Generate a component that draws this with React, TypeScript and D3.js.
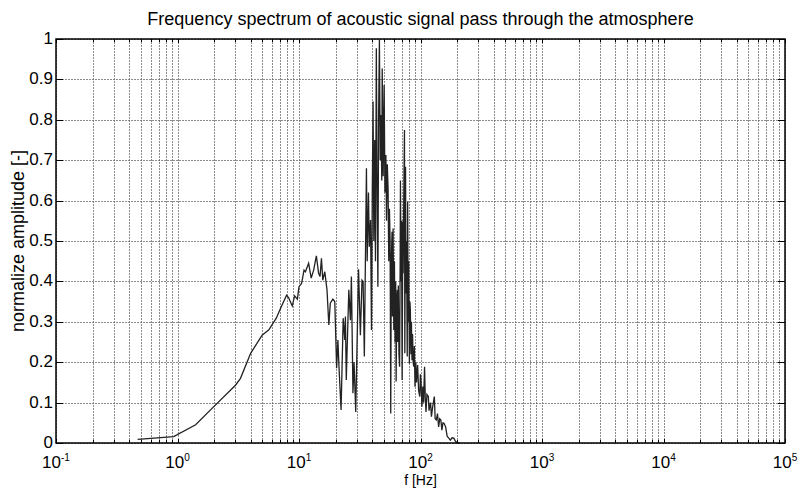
import React, { useEffect, useRef } from "react";
import * as d3 from "d3";

// spectrum: frequency [Hz] and normalized amplitude
const freq = [
  0.47, 0.93, 1.41, 1.99, 3.0, 3.3, 4.0, 4.97, 5.65, 6.5, 7.04, 7.9, 8.2, 8.8, 9.2, 9.7,
  10.0, 10.5, 11.0, 11.3, 12.0, 12.6, 13.2, 13.9, 14.5, 14.9, 15.3, 15.7, 16.3, 17.0, 17.6,
  18.1, 19.0, 19.7, 20.4, 20.9, 21.3, 22.2, 23.1, 23.8, 24.1, 24.5, 25.7, 26.5, 27.0, 27.8,
  28.4, 29.3, 30.9, 32.0, 33.0, 33.7, 34.5, 35.2, 35.9, 36.4, 37.3, 37.9, 38.8, 39.5, 40.1,
  40.7, 41.3, 42.0, 42.6, 43.3, 44.0, 44.6, 45.2, 45.9, 46.6, 47.3, 48.0, 48.4, 49.3, 50.2,
  51.0, 51.9, 52.5, 53.3, 54.1, 54.8, 55.5, 56.2, 56.9, 57.5, 58.3, 58.8, 59.5, 60.3, 61.0,
  61.8, 62.5, 63.0, 63.8, 64.4, 65.0, 65.7, 66.5, 67.3, 68.0, 68.4, 69.2, 69.8, 70.6, 71.5,
  72.0, 72.8, 73.8, 74.3, 75.3, 76.0, 76.7, 77.8, 78.4, 79.2, 80.0, 81.0, 81.8, 82.5, 83.5,
  84.2, 85.1, 86.0, 87.0, 88.0, 89.0, 90.1, 91.5, 92.7, 94.7, 96.5, 98.6, 99.8, 100.9, 102.7,
  104.5, 106, 108, 109.5, 111, 113, 116, 117.5, 119, 121, 123, 126, 130, 132, 135, 138, 141,
  144, 147, 150, 153, 156, 161, 164, 166, 171, 176, 182, 188, 194, 200, 210,
];
const amp = [
  0.009, 0.016, 0.045, 0.09, 0.143, 0.16, 0.222, 0.267, 0.28, 0.309, 0.333, 0.366, 0.36, 0.339, 0.364, 0.356,
  0.387, 0.395, 0.428, 0.424, 0.445, 0.408, 0.428, 0.463, 0.42, 0.412, 0.457, 0.403, 0.424, 0.379, 0.292,
  0.346, 0.356, 0.35, 0.185, 0.255, 0.193, 0.082, 0.309, 0.255, 0.313, 0.156, 0.379, 0.304, 0.412, 0.123,
  0.2, 0.077, 0.43, 0.267, 0.403, 0.4, 0.214, 0.453, 0.68, 0.45, 0.62, 0.486, 0.552, 0.28, 0.62,
  0.845, 0.5, 0.75, 0.45, 0.977, 0.6, 0.387, 0.804, 0.998, 0.7, 0.812, 0.65, 0.927, 0.66, 0.886,
  0.62, 0.713, 0.55, 0.69, 0.63, 0.45, 0.58, 0.5, 0.073, 0.45, 0.523, 0.313, 0.531, 0.28, 0.45,
  0.25, 0.4, 0.152, 0.35, 0.379, 0.25, 0.39, 0.22, 0.189, 0.45, 0.65, 0.4, 0.55, 0.156, 0.548,
  0.42, 0.6, 0.775, 0.222, 0.684, 0.37, 0.5, 0.214, 0.597, 0.3, 0.45, 0.197, 0.35, 0.33, 0.22,
  0.3, 0.205, 0.27, 0.2, 0.189, 0.24, 0.139, 0.2, 0.15, 0.193, 0.13, 0.115, 0.17, 0.156, 0.09,
  0.14, 0.1, 0.189, 0.11, 0.077, 0.12, 0.115, 0.08, 0.09, 0.1, 0.065, 0.09, 0.115, 0.06, 0.057, 0.073, 0.04,
  0.06, 0.057, 0.032, 0.05, 0.049, 0.04, 0.025, 0.016, 0.012, 0.007, 0.013, 0.012, 0.004, 0.001, 0.0,
];

const xExponents = [-1, 0, 1, 2, 3, 4, 5];
const yTicks = [0, 0.1, 0.2, 0.3, 0.4, 0.5, 0.6, 0.7, 0.8, 0.9, 1];
const yTickLabels = ["0", "0.1", "0.2", "0.3", "0.4", "0.5", "0.6", "0.7", "0.8", "0.9", "1"];

const width = 799;
const height = 488;
const margin = { top: 39, right: 14, bottom: 45, left: 56 };

export default function App() {
  const ref = useRef<SVGSVGElement>(null);

  useEffect(() => {
    const svg = d3.select(ref.current);
    svg.selectAll("*").remove();

    const x = d3
      .scaleLog()
      .domain([0.1, 1e5])
      .range([margin.left, width - margin.right]);
    const y = d3
      .scaleLinear()
      .domain([0, 1])
      .range([height - margin.bottom, margin.top]);

    const [x0, x1] = x.range();
    const [y0, y1] = y.range();

    const majors = xExponents.map((e) => Math.pow(10, e));
    const minors: number[] = [];
    xExponents.slice(0, -1).forEach((e) => {
      for (let m = 2; m <= 9; m++) minors.push(m * Math.pow(10, e));
    });

    svg.append("rect").attr("x", 0).attr("y", 0).attr("width", width).attr("height", height).attr("fill", "#fff");

    // grid (dotted, looks grey at this size)
    const grid = svg.append("g").attr("stroke", "#666").attr("stroke-opacity", 0.75).attr("stroke-dasharray", "2,1");
    grid
      .selectAll("line.v")
      .data([...majors, ...minors])
      .join("line")
      .attr("x1", (d) => Math.round(x(d)) + 0.5)
      .attr("x2", (d) => Math.round(x(d)) + 0.5)
      .attr("y1", y1)
      .attr("y2", y0);
    grid
      .selectAll("line.h")
      .data(yTicks)
      .join("line")
      .attr("x1", x0)
      .attr("x2", x1)
      .attr("y1", (d) => Math.round(y(d)) + 0.5)
      .attr("y2", (d) => Math.round(y(d)) + 0.5);

    // data
    const line = d3
      .line<number>()
      .x((_, i) => x(freq[i]))
      .y((d) => y(d));
    svg
      .append("path")
      .attr("d", line(amp))
      .attr("fill", "none")
      .attr("stroke", "#222")
      .attr("stroke-width", 1.3);

    // ticks (inside, all four sides)
    const ticks = svg.append("g").attr("stroke", "#000").attr("stroke-width", 1);
    const xt = [...majors.map((d) => ({ v: d, l: 4 })), ...minors.map((d) => ({ v: d, l: 3 }))];
    xt.forEach((t) => {
      const px = Math.round(x(t.v)) + 0.5;
      ticks.append("line").attr("x1", px).attr("x2", px).attr("y1", y0).attr("y2", y0 - t.l);
      ticks.append("line").attr("x1", px).attr("x2", px).attr("y1", y1).attr("y2", y1 + t.l);
    });
    yTicks.forEach((t) => {
      const py = Math.round(y(t)) + 0.5;
      ticks.append("line").attr("x1", x0).attr("x2", x0 + 7).attr("y1", py).attr("y2", py);
      ticks.append("line").attr("x1", x1).attr("x2", x1 - 7).attr("y1", py).attr("y2", py);
    });

    // axes box
    svg
      .append("rect")
      .attr("x", x0)
      .attr("y", y1)
      .attr("width", x1 - x0)
      .attr("height", y0 - y1)
      .attr("fill", "none")
      .attr("stroke", "#000")
      .attr("stroke-width", 1.5);

    const font = "Arial, 'Liberation Sans', sans-serif";

    // y labels
    svg
      .append("g")
      .selectAll("text")
      .data(yTicks)
      .join("text")
      .attr("x", x0 - 3)
      .attr("y", (d) => y(d) + 5)
      .attr("text-anchor", "end")
      .attr("font-family", font)
      .attr("font-size", 17)
      .text((_, i) => yTickLabels[i]);

    // x labels 10^n
    const xl = svg
      .append("g")
      .selectAll("text")
      .data(xExponents)
      .join("text")
      .attr("x", (d) => x(Math.pow(10, d)))
      .attr("y", 468)
      .attr("text-anchor", "middle")
      .attr("font-family", font)
      .attr("font-size", 17);
    xl.append("tspan").text("10");
    xl.append("tspan")
      .attr("dy", -7)
      .attr("font-size", 10)
      .text((d) => String(d));

    svg
      .append("text")
      .attr("x", (x0 + x1) / 2)
      .attr("y", 485)
      .attr("text-anchor", "middle")
      .attr("font-family", font)
      .attr("font-size", 14)
      .text("f [Hz]");

    svg
      .append("text")
      .attr("transform", `translate(24,${(y0 + y1) / 2}) rotate(-90)`)
      .attr("text-anchor", "middle")
      .attr("font-family", font)
      .attr("font-size", 18)
      .text("normalize amplitude [-]");

    svg
      .append("text")
      .attr("x", (x0 + x1) / 2)
      .attr("y", 25)
      .attr("text-anchor", "middle")
      .attr("font-family", font)
      .attr("font-size", 18)
      .text("Frequency spectrum of acoustic signal pass through the atmosphere");
  }, []);

  return (
    <svg
      ref={ref}
      width={width}
      height={height}
      style={{ position: "absolute", left: 0, top: 0 }}
    />
  );
}
